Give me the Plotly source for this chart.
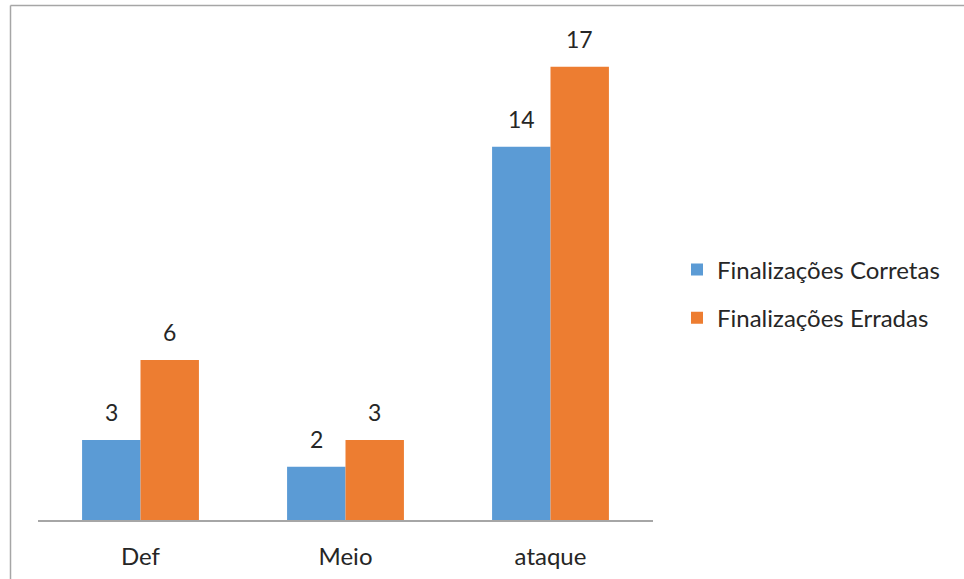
import plotly.graph_objects as go

# Shot outcomes by pitch zone
categories = ["Def", "Meio", "ataque"]
corretas = [3, 2, 14]
erradas = [6, 3, 17]
series_names = ["Finalizações Corretas", "Finalizações Erradas"]
series_colors = ["#5B9BD5", "#ED7D31"]

W, H = 964, 579
L, R, T, B = 38, 311, 40, 59
plot_w = W - L - R
plot_h = H - T - B
font_family = "Lato, 'Open Sans', sans-serif"
text_color = "#262626"

fig = go.Figure()
for name, vals, col in zip(series_names, [corretas, erradas], series_colors):
    fig.add_trace(go.Bar(x=categories, y=vals, name=name, marker_color=col,
                         marker_line_width=0, legendgroup=name))

# value labels above each bar
bar_px = plot_w / len(categories) * (1 - 0.43) / 2
for k, vals in enumerate([corretas, erradas]):
    shift = (-0.5 if k == 0 else 0.5) * bar_px
    for c, v in zip(categories, vals):
        fig.add_annotation(x=c, y=v, text=str(v), showarrow=False,
                           xshift=shift, yshift=12, yanchor="bottom",
                           font=dict(size=23, color=text_color, family=font_family))

def px_to_paper_x(px):
    return (px - L) / plot_w

def px_to_paper_y(py):
    return (H - B - py) / plot_h

# outer chart frame (top and left edges visible)
fig.add_shape(type="line", xref="paper", yref="paper",
              x0=px_to_paper_x(10.5), x1=px_to_paper_x(W + 5),
              y0=px_to_paper_y(5.5), y1=px_to_paper_y(5.5),
              line=dict(color="#A6A6A6", width=1.5))
fig.add_shape(type="line", xref="paper", yref="paper",
              x0=px_to_paper_x(10.5), x1=px_to_paper_x(10.5),
              y0=px_to_paper_y(5.5), y1=px_to_paper_y(H + 5),
              line=dict(color="#A6A6A6", width=1.5))

fig.update_layout(
    width=W, height=H,
    margin=dict(l=L, r=R, t=T, b=B, autoexpand=False),
    paper_bgcolor="white", plot_bgcolor="white",
    barmode="group", bargap=0.43, bargroupgap=0,
    font=dict(family=font_family, color=text_color),
    showlegend=True,
    legend=dict(x=px_to_paper_x(677), xanchor="left",
                y=px_to_paper_y(294), yanchor="middle",
                font=dict(size=24, color=text_color, family=font_family),
                tracegroupgap=14, traceorder="grouped",
                bgcolor="rgba(0,0,0,0)"),
)
fig.update_xaxes(showline=True, linecolor="#A6A6A6", linewidth=1.5,
                 ticks="", showgrid=False, zeroline=False, automargin=False,
                 tickfont=dict(size=24, color=text_color, family=font_family),
                 ticklabelstandoff=14)
fig.update_yaxes(range=[0, 18], visible=False, showgrid=False, zeroline=False,
                 automargin=False)

fig.write_html("out.html")
